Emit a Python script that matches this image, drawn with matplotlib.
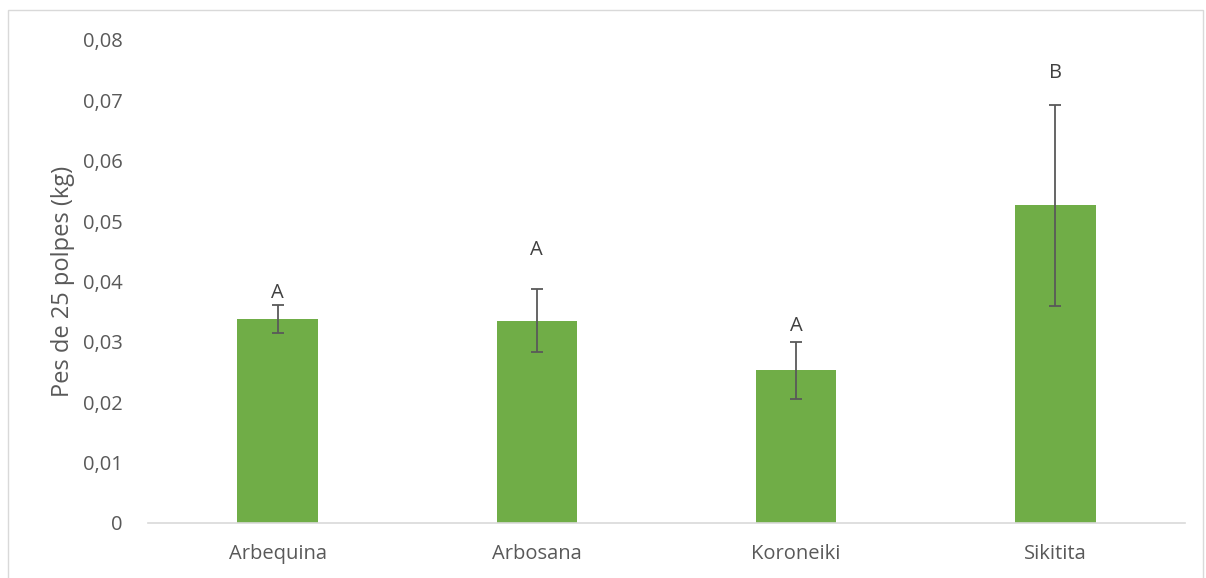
import matplotlib.pyplot as plt
from matplotlib.patches import Rectangle
from matplotlib.ticker import FuncFormatter

# pes mitjà de 25 polpes per varietat, amb desviació estàndard
varietats = ["Arbequina", "Arbosana", "Koroneiki", "Sikitita"]
pes_mitja = [0.0338, 0.0335, 0.0253, 0.0526]
desviacio = [0.00225, 0.0052, 0.0047, 0.0167]
lletres = ["A", "A", "A", "B"]
lletra_y = [0.0381, 0.0452, 0.0326, 0.0745]

plt.rcParams["font.family"] = ["Open Sans", "DejaVu Sans"]
gris = "#595959"

fig = plt.figure(figsize=(12.06, 5.78), dpi=100)
ax = fig.add_axes([148 / 1206, 55 / 578, 1037 / 1206, 483 / 578])

x = list(range(len(varietats)))
ax.bar(x, pes_mitja, width=0.31, color="#70AD47", zorder=2)
ax.errorbar(x, pes_mitja, yerr=desviacio, fmt="none", ecolor=gris,
            elinewidth=1.3, capsize=4.5, capthick=1.3, zorder=3)

for xi, lletra, yi in zip(x, lletres, lletra_y):
    ax.text(xi, yi, lletra, ha="center", va="center", fontsize=14.5, color="#404040")

ax.set_xlim(-0.5, 3.5)
ax.set_ylim(0, 0.08)
ax.set_yticks([i / 100 for i in range(9)])
ax.yaxis.set_major_formatter(FuncFormatter(
    lambda v, p: "0" if v == 0 else f"{v:.2f}".replace(".", ",")))
ax.set_xticks(x)
ax.set_xticklabels(varietats)
ax.tick_params(axis="both", length=0, labelsize=14.5, colors=gris)
ax.tick_params(axis="x", pad=15)
ax.tick_params(axis="y", pad=18)

for side in ["top", "right", "left"]:
    ax.spines[side].set_visible(False)
ax.spines["bottom"].set_color("#d9d9d9")
ax.spines["bottom"].set_linewidth(1.2)

ax.set_ylabel("Pes de 25 polpes (kg)", fontsize=17, color=gris, labelpad=6)

# marc de l'àrea del gràfic
fig.patches.append(Rectangle((8 / 1206, -0.01), 1195 / 1206, 1 - 10 / 578 + 0.01,
                             transform=fig.transFigure, fill=False,
                             edgecolor="#d9d9d9", linewidth=1))

fig.savefig("out.png", dpi=100)
